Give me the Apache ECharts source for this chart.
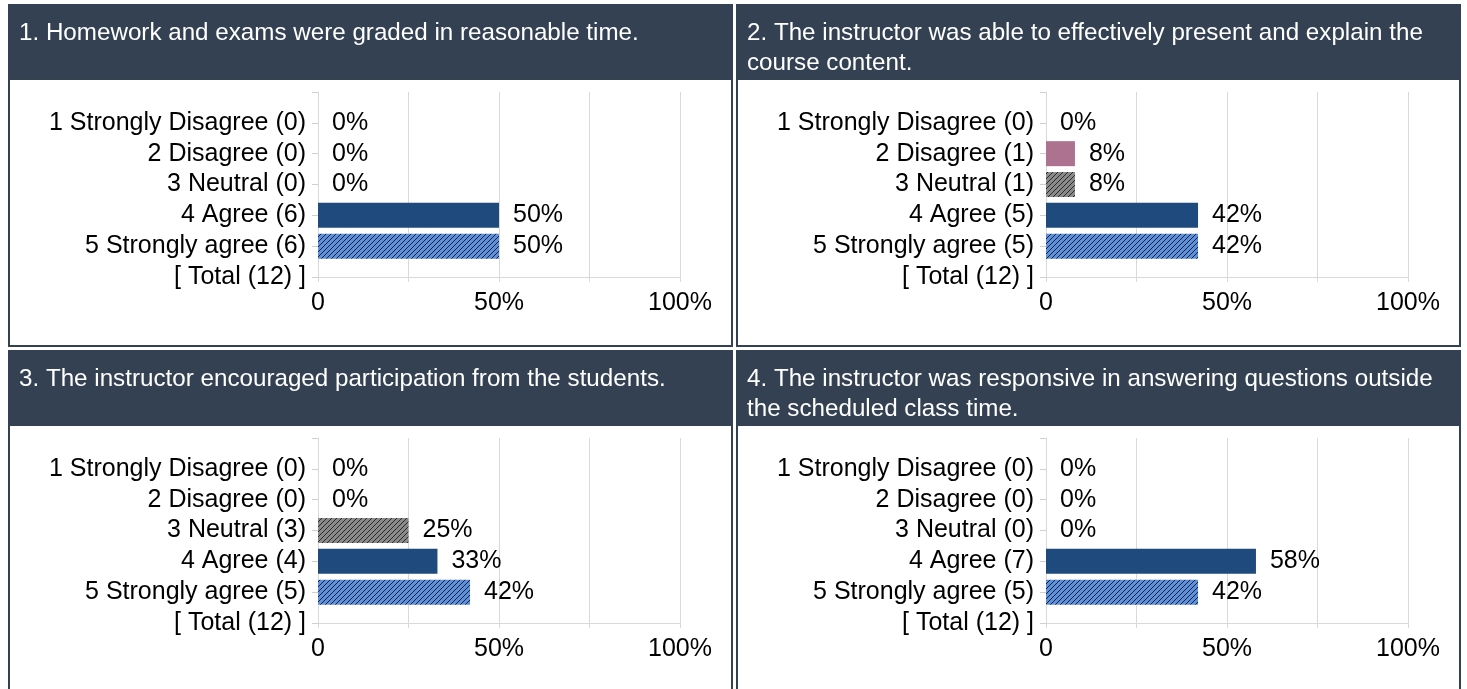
<!DOCTYPE html>
<html>
<head>
<meta charset="utf-8">
<script src="https://cdn.jsdelivr.net/npm/echarts@6/dist/echarts.min.js"></script>
<style>
html,body{margin:0;padding:0;background:#fff;}
#c{width:1467px;height:689px;}
</style>
</head>
<body>
<div id="c"></div>
<script>
// ---- data ----
const titles = [
  "1. Homework and exams were graded in reasonable time.",
  "2. The instructor was able to effectively present and explain the\ncourse content.",
  "3. The instructor encouraged participation from the students.",
  "4. The instructor was responsive in answering questions outside\nthe scheduled class time."
];
const categories1 = ["1 Strongly Disagree (0)", "2 Disagree (0)", "3 Neutral (0)", "4 Agree (6)", "5 Strongly agree (6)", "[ Total (12) ]"];
const categories2 = ["1 Strongly Disagree (0)", "2 Disagree (1)", "3 Neutral (1)", "4 Agree (5)", "5 Strongly agree (5)", "[ Total (12) ]"];
const categories3 = ["1 Strongly Disagree (0)", "2 Disagree (0)", "3 Neutral (3)", "4 Agree (4)", "5 Strongly agree (5)", "[ Total (12) ]"];
const categories4 = ["1 Strongly Disagree (0)", "2 Disagree (0)", "3 Neutral (0)", "4 Agree (7)", "5 Strongly agree (5)", "[ Total (12) ]"];
const values1 = [0, 0, 0, 50, 50];
const values2 = [0, 8, 8, 42, 42];
const values3 = [0, 0, 25, 33, 42];
const values4 = [0, 0, 0, 58, 42];
const xTickValues = [0, 50, 100];
const xTickLabels = ["0", "50%", "100%"];

// ---- styling ----
const FONT = "'Liberation Sans', Arial, sans-serif";
const HEAD = "#344152";
const FS = 25;

function hatch(base, line) {
  const s = 5;
  const cv = document.createElement('canvas');
  cv.width = s; cv.height = s;
  const g = cv.getContext('2d');
  g.fillStyle = base; g.fillRect(0, 0, s, s);
  g.fillStyle = line;
  for (let x = 0; x < s; x++) g.fillRect(x, s - 1 - x, 1, 1);
  return {image: cv, repeat: 'repeat'};
}
const barColors = ['#c0504d', '#ad7290', hatch('#8a8a8a', '#2a2a2a'), '#1f4a7d', hatch('#5f90dc', '#14233a')];

const panels = [
  {x: 9, y: 5, cats: categories1, vals: values1},
  {x: 737, y: 5, cats: categories2, vals: values2},
  {x: 9, y: 351, cats: categories3, vals: values3},
  {x: 737, y: 351, cats: categories4, vals: values4}
];
const W = 723, H1 = 341;

const option = {
  animation: false,
  textStyle: {fontFamily: FONT},
  graphic: [],
  title: [],
  grid: [],
  xAxis: [],
  yAxis: [],
  series: []
};

panels.forEach((p, i) => {
  const h = i < 2 ? H1 : 360;
  option.graphic.push({type: 'rect', z: -10, shape: {x: p.x, y: p.y, width: W, height: h},
    style: {fill: '#fff', stroke: HEAD, lineWidth: 2}});
  option.graphic.push({type: 'rect', z: -9, shape: {x: p.x - 1, y: p.y - 1, width: W + 2, height: 76},
    style: {fill: HEAD}});
  option.title.push({text: titles[i], left: p.x + 10, top: p.y + 13, padding: 0,
    textStyle: {color: '#fff', fontSize: 24.2, fontWeight: 'normal', fontFamily: FONT, lineHeight: 30}});
  const gx = p.x + 309, gy = p.y + 87;
  option.grid.push({left: gx, top: gy, width: 362, height: 185, containLabel: false});
  option.xAxis.push({
    type: 'value', gridIndex: i, min: 0, max: 100, interval: 25,
    axisLine: {show: true, lineStyle: {color: '#d9d9d9'}},
    axisTick: {show: true, length: 5, lineStyle: {color: '#d9d9d9'}},
    splitLine: {show: true, lineStyle: {color: '#d9d9d9'}},
    axisLabel: {color: '#000', fontSize: FS, fontFamily: FONT, margin: 14,
      formatter: v => { const k = xTickValues.indexOf(v); return k >= 0 ? xTickLabels[k] : ''; }}
  });
  option.yAxis.push({
    type: 'category', gridIndex: i, inverse: true, boundaryGap: false,
    data: [''].concat(p.cats),
    axisLine: {show: true, lineStyle: {color: '#d9d9d9'}},
    axisTick: {show: true, length: 6, interval: 0, lineStyle: {color: '#cfcfcf'}},
    splitLine: {show: false},
    axisLabel: {color: '#000', fontSize: FS, fontFamily: FONT, margin: 12, interval: 0}
  });
  const data = [{value: '-'}];
  p.vals.forEach((v, k) => data.push({value: v, itemStyle: {color: barColors[k]}}));
  data.push({value: '-'});
  option.series.push({
    type: 'bar', xAxisIndex: i, yAxisIndex: i, barWidth: 25, data: data,
    label: {show: true, position: 'right', distance: 14, color: '#000', fontSize: FS, fontFamily: FONT,
      formatter: d => d.value + '%'}
  });
});

const chart = echarts.init(document.getElementById('c'), null, {renderer: 'canvas'});
chart.setOption(option);
</script>
</body>
</html>
